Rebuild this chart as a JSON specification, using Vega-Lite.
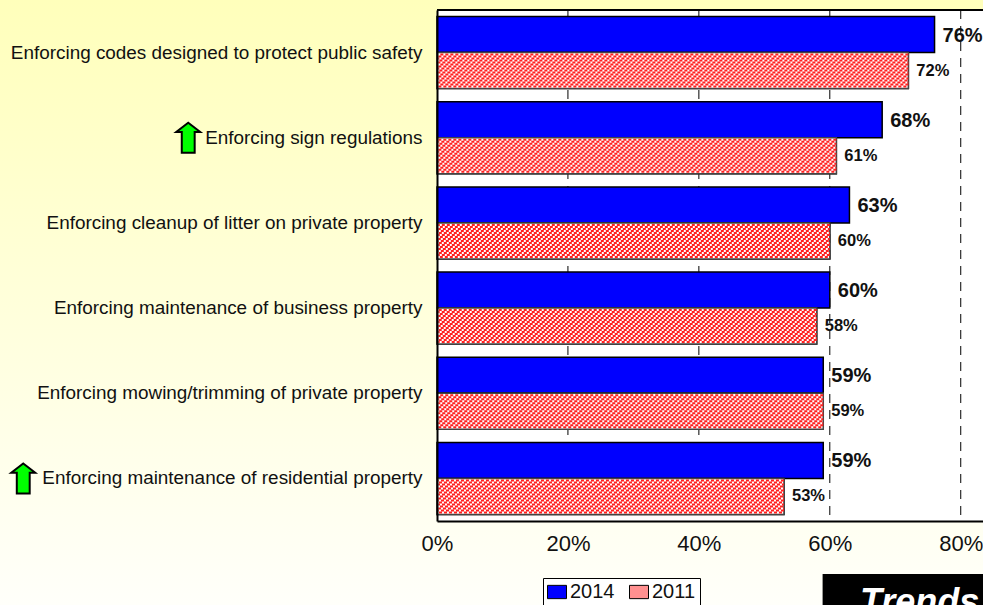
{
  "$schema": "https://vega.github.io/schema/vega-lite/v6.json",
  "width": 546,
  "height": 511,
  "autosize": "none",
  "padding": {"left": 437, "top": 10, "right": 0, "bottom": 84},
  "background": "#FFFFFA",
  "view": {"stroke": null},
  "config": {"font": "Liberation Sans"},
  "datasets": {
    "bars": [
      {"item": "Enforcing codes designed to protect public safety", "year": "2014", "value": 0.76},
      {"item": "Enforcing codes designed to protect public safety", "year": "2011", "value": 0.72},
      {"item": "Enforcing sign regulations", "year": "2014", "value": 0.68},
      {"item": "Enforcing sign regulations", "year": "2011", "value": 0.61},
      {"item": "Enforcing cleanup of litter on private property", "year": "2014", "value": 0.63},
      {"item": "Enforcing cleanup of litter on private property", "year": "2011", "value": 0.60},
      {"item": "Enforcing maintenance of business property", "year": "2014", "value": 0.60},
      {"item": "Enforcing maintenance of business property", "year": "2011", "value": 0.58},
      {"item": "Enforcing mowing/trimming of private property", "year": "2014", "value": 0.59},
      {"item": "Enforcing mowing/trimming of private property", "year": "2011", "value": 0.59},
      {"item": "Enforcing maintenance of residential property", "year": "2014", "value": 0.59},
      {"item": "Enforcing maintenance of residential property", "year": "2011", "value": 0.53}
    ],
    "hatch": [
      {"item": "Enforcing codes designed to protect public safety", "value": 0.72},
      {"item": "Enforcing sign regulations", "value": 0.61},
      {"item": "Enforcing cleanup of litter on private property", "value": 0.60},
      {"item": "Enforcing maintenance of business property", "value": 0.58},
      {"item": "Enforcing mowing/trimming of private property", "value": 0.59},
      {"item": "Enforcing maintenance of residential property", "value": 0.53}
    ],
    "arrows": [
      {"item": "Enforcing sign regulations", "pos": -0.38},
      {"item": "Enforcing maintenance of residential property", "pos": -0.632}
    ],
    "ticks": [{"tick": 0.2}, {"tick": 0.4}, {"tick": 0.6}, {"tick": 0.8}],
    "badge": [{"label": "Trends", "start": 0.589, "textStart": 0.646}]
  },
  "layer": [
    {
      "data": {"values": [{}]},
      "mark": {"type": "rect", "fill": {"gradient": "linear", "x1": 0, "y1": 0, "x2": 0, "y2": 1, "stops": [{"offset": 0, "color": "#FFFFBB"}, {"offset": 1, "color": "#FFFFFA"}]}, "clip": false},
      "encoding": {"x": {"value": -437}, "x2": {"value": 546}, "y": {"value": -10}, "y2": {"value": 595}}
    },
    {
      "data": {"values": [{}]},
      "mark": {"type": "rect", "fill": "#FFFFFF"},
      "encoding": {"x": {"value": 0}, "x2": {"value": 546}, "y": {"value": 0}, "y2": {"value": 511}}
    },
    {
      "data": {"name": "ticks"},
      "mark": {"type": "rule", "color": "#000000", "strokeWidth": 1, "strokeDash": [9, 7]},
      "encoding": {"x": {"field": "tick", "type": "quantitative"}}
    },
    {
      "data": {"name": "bars"},
      "mark": {"type": "bar", "stroke": "#000000", "strokeWidth": 1.5},
      "encoding": {
        "x": {"field": "value", "type": "quantitative", "scale": {"domain": [0, 0.834], "nice": false},
          "axis": {"values": [0, 0.2, 0.4, 0.6, 0.8], "format": ".0%", "title": null, "grid": false, "zindex": 1, "ticks": false, "domainColor": "#000000", "domainWidth": 2, "labelFontSize": 22, "labelColor": "#111111", "labelPadding": 12, "labelFlush": false, "labelOverlap": false, "labelBound": false}},
        "y": {"field": "item", "type": "nominal", "sort": null, "scale": {"paddingInner": 0.155, "paddingOuter": 0.0775},
          "axis": {"title": null, "ticks": false, "zindex": 1, "domainColor": "#000000", "domainWidth": 2, "labelFontSize": 18.9, "labelColor": "#111111", "labelPadding": 15, "labelLimit": 430, "grid": false}},
        "yOffset": {"field": "year", "type": "nominal", "sort": ["2014", "2011"], "scale": {"paddingInner": 0, "paddingOuter": 0}},
        "fill": {"field": "year", "type": "nominal",
          "scale": {"domain": ["2014", "2011"], "range": ["#0000FF", "#FF9090"]},
          "legend": {"title": null, "orient": "none", "legendX": 106, "legendY": 568, "zindex": 1, "direction": "horizontal", "columns": 2, "symbolType": "M-1,-0.7H1V0.7H-1Z", "symbolSize": 361, "symbolStrokeColor": "#000000", "symbolStrokeWidth": 1, "symbolOpacity": 1, "labelFontSize": 20, "labelColor": "#111111", "labelOffset": 3, "columnPadding": 12, "strokeColor": "#000000", "fillColor": "#FFFFFF", "padding": 4}}
      }
    },
    {
      "data": {"name": "bars"},
      "transform": [{"filter": "datum.year === '2011'"}],
      "mark": {"type": "bar", "fill": "#FFFFFF", "stroke": "#444444", "strokeWidth": 1.5},
      "encoding": {
        "x": {"field": "value", "type": "quantitative"},
        "y": {"field": "item", "type": "nominal", "sort": null},
        "yOffset": {"field": "year", "type": "nominal", "sort": ["2014", "2011"]}
      }
    },
    {"data": {"name": "hatch"}, "mark": {"type": "rule", "color": "#FF2020", "strokeWidth": 2, "strokeDash": [3, 2], "strokeDashOffset": 0, "yOffset": 2}, "encoding": {"x": {"field": "value", "type": "quantitative"}, "x2": {"datum": 0.002}, "y": {"field": "item", "type": "nominal", "sort": null}}},
    {"data": {"name": "hatch"}, "mark": {"type": "rule", "color": "#FF2020", "strokeWidth": 2, "strokeDash": [3, 2], "strokeDashOffset": 3, "yOffset": 4}, "encoding": {"x": {"field": "value", "type": "quantitative"}, "x2": {"datum": 0.002}, "y": {"field": "item", "type": "nominal", "sort": null}}},
    {"data": {"name": "hatch"}, "mark": {"type": "rule", "color": "#FF2020", "strokeWidth": 2, "strokeDash": [3, 2], "strokeDashOffset": 1, "yOffset": 6}, "encoding": {"x": {"field": "value", "type": "quantitative"}, "x2": {"datum": 0.002}, "y": {"field": "item", "type": "nominal", "sort": null}}},
    {"data": {"name": "hatch"}, "mark": {"type": "rule", "color": "#FF2020", "strokeWidth": 2, "strokeDash": [3, 2], "strokeDashOffset": 4, "yOffset": 8}, "encoding": {"x": {"field": "value", "type": "quantitative"}, "x2": {"datum": 0.002}, "y": {"field": "item", "type": "nominal", "sort": null}}},
    {"data": {"name": "hatch"}, "mark": {"type": "rule", "color": "#FF2020", "strokeWidth": 2, "strokeDash": [3, 2], "strokeDashOffset": 2, "yOffset": 10}, "encoding": {"x": {"field": "value", "type": "quantitative"}, "x2": {"datum": 0.002}, "y": {"field": "item", "type": "nominal", "sort": null}}},
    {"data": {"name": "hatch"}, "mark": {"type": "rule", "color": "#FF2020", "strokeWidth": 2, "strokeDash": [3, 2], "strokeDashOffset": 0, "yOffset": 12}, "encoding": {"x": {"field": "value", "type": "quantitative"}, "x2": {"datum": 0.002}, "y": {"field": "item", "type": "nominal", "sort": null}}},
    {"data": {"name": "hatch"}, "mark": {"type": "rule", "color": "#FF2020", "strokeWidth": 2, "strokeDash": [3, 2], "strokeDashOffset": 3, "yOffset": 14}, "encoding": {"x": {"field": "value", "type": "quantitative"}, "x2": {"datum": 0.002}, "y": {"field": "item", "type": "nominal", "sort": null}}},
    {"data": {"name": "hatch"}, "mark": {"type": "rule", "color": "#FF2020", "strokeWidth": 2, "strokeDash": [3, 2], "strokeDashOffset": 1, "yOffset": 16}, "encoding": {"x": {"field": "value", "type": "quantitative"}, "x2": {"datum": 0.002}, "y": {"field": "item", "type": "nominal", "sort": null}}},
    {"data": {"name": "hatch"}, "mark": {"type": "rule", "color": "#FF2020", "strokeWidth": 2, "strokeDash": [3, 2], "strokeDashOffset": 4, "yOffset": 18}, "encoding": {"x": {"field": "value", "type": "quantitative"}, "x2": {"datum": 0.002}, "y": {"field": "item", "type": "nominal", "sort": null}}},
    {"data": {"name": "hatch"}, "mark": {"type": "rule", "color": "#FF2020", "strokeWidth": 2, "strokeDash": [3, 2], "strokeDashOffset": 2, "yOffset": 20}, "encoding": {"x": {"field": "value", "type": "quantitative"}, "x2": {"datum": 0.002}, "y": {"field": "item", "type": "nominal", "sort": null}}},
    {"data": {"name": "hatch"}, "mark": {"type": "rule", "color": "#FF2020", "strokeWidth": 2, "strokeDash": [3, 2], "strokeDashOffset": 0, "yOffset": 22}, "encoding": {"x": {"field": "value", "type": "quantitative"}, "x2": {"datum": 0.002}, "y": {"field": "item", "type": "nominal", "sort": null}}},
    {"data": {"name": "hatch"}, "mark": {"type": "rule", "color": "#FF2020", "strokeWidth": 2, "strokeDash": [3, 2], "strokeDashOffset": 3, "yOffset": 24}, "encoding": {"x": {"field": "value", "type": "quantitative"}, "x2": {"datum": 0.002}, "y": {"field": "item", "type": "nominal", "sort": null}}},
    {"data": {"name": "hatch"}, "mark": {"type": "rule", "color": "#FF2020", "strokeWidth": 2, "strokeDash": [3, 2], "strokeDashOffset": 1, "yOffset": 26}, "encoding": {"x": {"field": "value", "type": "quantitative"}, "x2": {"datum": 0.002}, "y": {"field": "item", "type": "nominal", "sort": null}}},
    {"data": {"name": "hatch"}, "mark": {"type": "rule", "color": "#FF2020", "strokeWidth": 2, "strokeDash": [3, 2], "strokeDashOffset": 4, "yOffset": 28}, "encoding": {"x": {"field": "value", "type": "quantitative"}, "x2": {"datum": 0.002}, "y": {"field": "item", "type": "nominal", "sort": null}}},
    {"data": {"name": "hatch"}, "mark": {"type": "rule", "color": "#FF2020", "strokeWidth": 2, "strokeDash": [3, 2], "strokeDashOffset": 2, "yOffset": 30}, "encoding": {"x": {"field": "value", "type": "quantitative"}, "x2": {"datum": 0.002}, "y": {"field": "item", "type": "nominal", "sort": null}}},
    {"data": {"name": "hatch"}, "mark": {"type": "rule", "color": "#FF2020", "strokeWidth": 2, "strokeDash": [3, 2], "strokeDashOffset": 0, "yOffset": 32}, "encoding": {"x": {"field": "value", "type": "quantitative"}, "x2": {"datum": 0.002}, "y": {"field": "item", "type": "nominal", "sort": null}}},
    {"data": {"name": "hatch"}, "mark": {"type": "rule", "color": "#FF2020", "strokeWidth": 2, "strokeDash": [3, 2], "strokeDashOffset": 3, "yOffset": 34}, "encoding": {"x": {"field": "value", "type": "quantitative"}, "x2": {"datum": 0.002}, "y": {"field": "item", "type": "nominal", "sort": null}}},
    {
      "data": {"name": "bars"},
      "transform": [{"filter": "datum.year === '2014'"}],
      "mark": {"type": "text", "align": "left", "baseline": "middle", "dx": 8, "dy": 1, "fontSize": 20, "fontWeight": "bold", "color": "#111111"},
      "encoding": {
        "x": {"field": "value", "type": "quantitative"},
        "y": {"field": "item", "type": "nominal", "sort": null},
        "yOffset": {"field": "year", "type": "nominal", "sort": ["2014", "2011"]},
        "text": {"field": "value", "type": "quantitative", "format": ".0%"}
      }
    },
    {
      "data": {"name": "bars"},
      "transform": [{"filter": "datum.year === '2011'"}],
      "mark": {"type": "text", "align": "left", "baseline": "middle", "dx": 8, "fontSize": 16.5, "fontWeight": "bold", "color": "#111111"},
      "encoding": {
        "x": {"field": "value", "type": "quantitative"},
        "y": {"field": "item", "type": "nominal", "sort": null},
        "yOffset": {"field": "year", "type": "nominal", "sort": ["2014", "2011"]},
        "text": {"field": "value", "type": "quantitative", "format": ".0%"}
      }
    },
    {
      "data": {"name": "arrows"},
      "mark": {"type": "point", "clip": false, "filled": true, "fill": "#00FF00", "stroke": "#000000", "strokeWidth": 2, "opacity": 1, "size": 900, "shape": "M0,-1L0.8,-0.38L0.43,-0.38L0.43,1L-0.43,1L-0.43,-0.38L-0.8,-0.38Z"},
      "encoding": {
        "x": {"field": "pos", "type": "quantitative"},
        "y": {"field": "item", "type": "nominal", "sort": null}
      }
    },
    {
      "data": {"values": [{}]},
      "mark": {"type": "rule", "color": "#000000", "strokeWidth": 2},
      "encoding": {"x": {"value": 0}, "x2": {"value": 546}, "y": {"value": 0}}
    },
    {
      "data": {"name": "badge"},
      "mark": {"type": "rect", "fill": "#000000", "clip": false},
      "encoding": {
        "x": {"field": "start", "type": "quantitative"},
        "x2": {"value": 546},
        "y": {"value": 564},
        "y2": {"value": 595}
      }
    },
    {
      "data": {"name": "badge"},
      "mark": {"type": "text", "align": "left", "baseline": "alphabetic", "fontSize": 36, "fontWeight": "bold", "fontStyle": "italic", "color": "#FFFFFF", "clip": false},
      "encoding": {
        "x": {"field": "textStart", "type": "quantitative"},
        "y": {"value": 604},
        "text": {"field": "label", "type": "nominal"}
      }
    }
  ]
}
